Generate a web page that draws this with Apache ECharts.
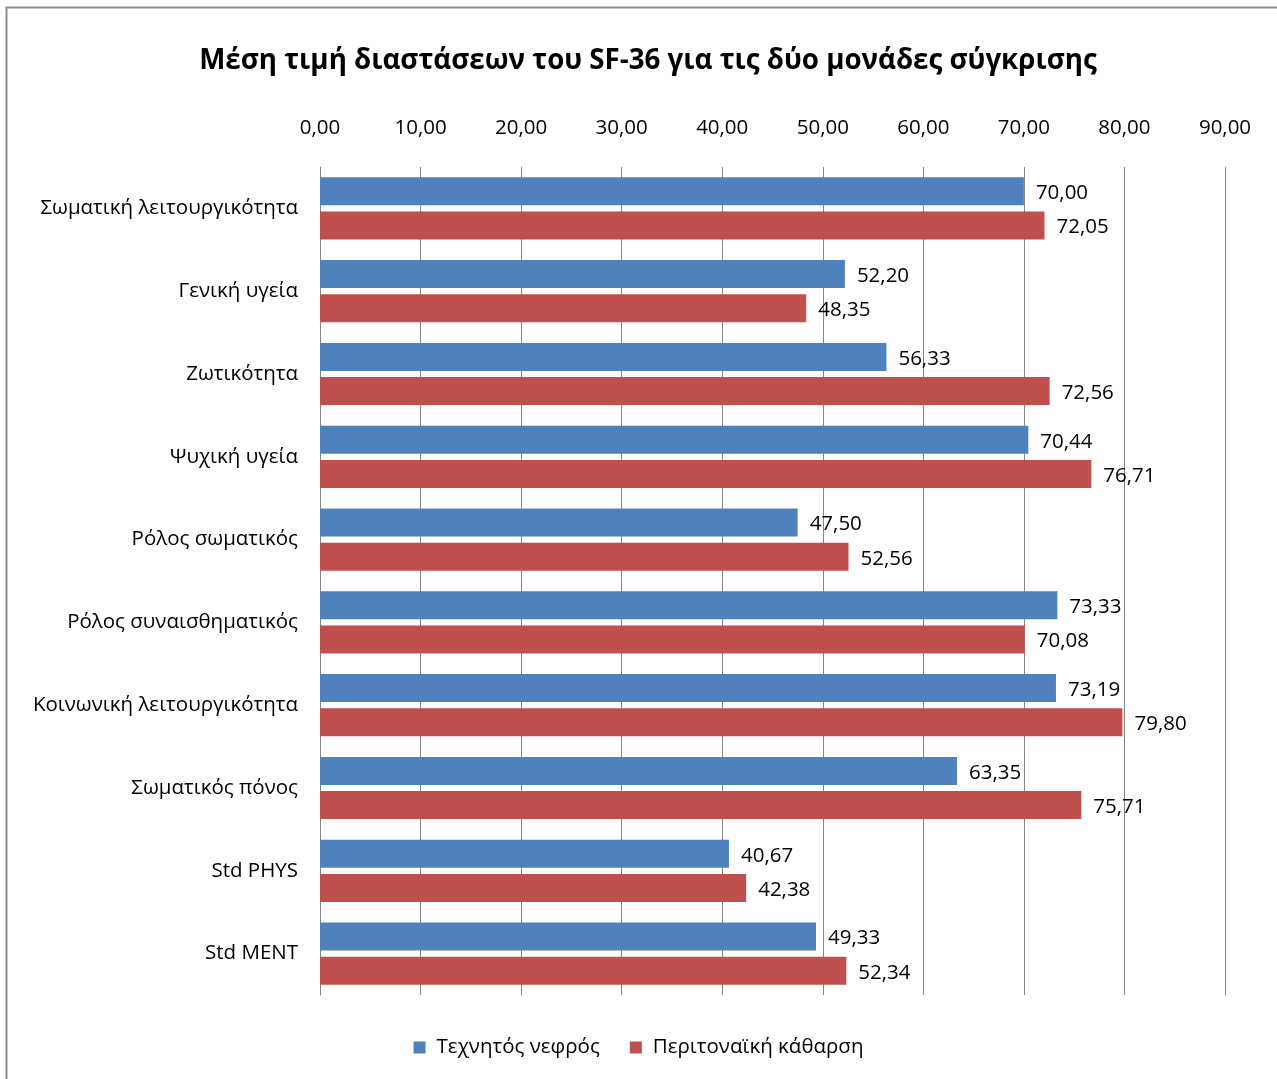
<!DOCTYPE html>
<html><head><meta charset="utf-8">
<script src="https://cdn.jsdelivr.net/npm/echarts@6/dist/echarts.min.js"></script>
<style>html,body{margin:0;padding:0;background:#fff}#c{width:1277px;height:1079px}</style>
</head><body><div id="c"></div>
<script>
const categories = ["Σωματική λειτουργικότητα","Γενική υγεία","Ζωτικότητα","Ψυχική υγεία","Ρόλος σωματικός","Ρόλος συναισθηματικός","Κοινωνική λειτουργικότητα","Σωματικός πόνος","Std PHYS","Std MENT"];
const seriesNames = ["Τεχνητός νεφρός","Περιτοναϊκή κάθαρση"];
const hemo = [70.00,52.20,56.33,70.44,47.50,73.33,73.19,63.35,40.67,49.33];
const perit = [72.05,48.35,72.56,76.71,52.56,70.08,79.80,75.71,42.38,52.34];
const fmt = v => v.toFixed(2).replace('.', ',');
const font = "'Open Sans', sans-serif";
const chart = echarts.init(document.getElementById('c'));
chart.setOption({
  animation:false,
  graphic:[{type:'rect',shape:{x:6.5,y:7.5,width:1290,height:1100},style:{fill:'none',stroke:'#8c8c8c',lineWidth:2},silent:true}],
  title:{text:'Μέση τιμή διαστάσεων του SF-36 για τις δύο μονάδες σύγκρισης',left:643,top:42,textAlign:'center',
    textStyle:{fontFamily:font,fontSize:27.7,fontWeight:'bold',color:'#000'}},
  legend:{bottom:16,left:'center',itemWidth:12,itemHeight:12,itemGap:30,icon:'rect',
    textStyle:{fontFamily:font,fontSize:20.5,color:'#000',padding:[0,0,0,6]},data:seriesNames},
  grid:{left:320,right:52,top:167,bottom:84,containLabel:false},
  xAxis:{type:'value',position:'top',min:0,max:90,interval:10,
    axisLine:{show:false},axisTick:{show:false},
    axisLabel:{formatter:fmt,fontFamily:font,fontSize:20.5,color:'#000',margin:28},
    splitLine:{show:true,lineStyle:{color:'#868686',width:1}}},
  yAxis:{type:'category',inverse:true,data:categories,
    axisLine:{show:true,lineStyle:{color:'#868686'}},axisTick:{show:false},
    axisLabel:{fontFamily:font,fontSize:20.5,color:'#000',margin:22,padding:[4,0,0,0]}},
  series:[
    {name:seriesNames[0],type:'bar',data:hemo,barWidth:28,barGap:'22%',itemStyle:{color:'#4F81BD'},
      label:{show:true,position:'right',distance:12,offset:[0,2],formatter:p=>fmt(p.value),fontFamily:font,fontSize:20.5,color:'#000'}},
    {name:seriesNames[1],type:'bar',data:perit,barWidth:28,itemStyle:{color:'#C0504D'},
      label:{show:true,position:'right',distance:12,offset:[0,2],formatter:p=>fmt(p.value),fontFamily:font,fontSize:20.5,color:'#000'}}
  ]
});
</script></body></html>
